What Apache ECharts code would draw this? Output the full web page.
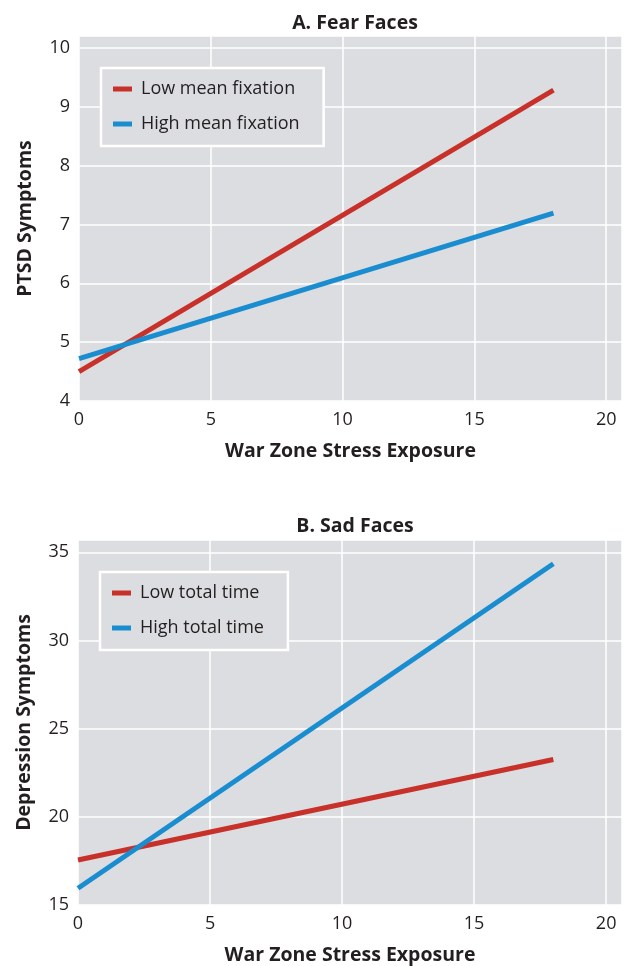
<!DOCTYPE html>
<html>
<head>
<meta charset="utf-8">
<script src="https://cdn.jsdelivr.net/npm/echarts@6/dist/echarts.min.js"></script>
<style>
html,body{margin:0;padding:0;background:#fff;}
#chart{width:627px;height:966px;}
</style>
</head>
<body>
<div id="chart"></div>
<script>
// Panel A: Fear Faces
const panelATitle = 'A. Fear Faces';
const panelAXName = 'War Zone Stress Exposure';
const panelAYName = 'PTSD Symptoms';
const panelANames = ['Low mean fixation', 'High mean fixation'];
const panelAX = [0, 18];
const panelALow = [4.5, 9.28];
const panelAHigh = [4.72, 7.19];
const panelAYTicks = [4, 5, 6, 7, 8, 9, 10];

// Panel B: Sad Faces
const panelBTitle = 'B. Sad Faces';
const panelBXName = 'War Zone Stress Exposure';
const panelBYName = 'Depression Symptoms';
const panelBNames = ['Low total time', 'High total time'];
const panelBX = [0, 18];
const panelBLow = [17.55, 23.25];
const panelBHigh = [15.95, 34.35];
const panelBYTicks = [15, 20, 25, 30, 35];

const xTicks = [0, 5, 10, 15, 20];

const RED = '#c8302a';
const BLUE = '#1a8dd0';
const BG = '#dcdde0';
const FONT = 'Open Sans';
const TXT = '#231f20';
const NAME_SIZE = 19.5;

function pairs(xs, ys){ return xs.map((x,i)=>[x, ys[i]]); }

function xAxis(gi){
  return {
    type:'value', gridIndex:gi, min:0, max:20.6, interval:5,
    name: gi===0?panelAXName:panelBXName, nameLocation:'middle', nameGap:40,
    nameTextStyle:{fontFamily:FONT,fontWeight:'bold',fontSize:NAME_SIZE,color:TXT},
    axisLine:{show:false}, axisTick:{show:false},
    axisLabel:{fontFamily:FONT,fontSize:18,color:TXT,margin:10,showMaxLabel:false,
      formatter:v=> xTicks.includes(v)?String(v):''},
    splitLine:{show:true,lineStyle:{color:'#ffffff',width:1.5}}
  };
}
function yAxis(gi){
  const ticks = gi===0?panelAYTicks:panelBYTicks;
  return {
    type:'value', gridIndex:gi,
    min: ticks[0], max: gi===0?10.2:35.7, interval: ticks[1]-ticks[0],
    name: gi===0?panelAYName:panelBYName, nameLocation:'middle', nameGap:44,
    nameTextStyle:{fontFamily:FONT,fontWeight:'bold',fontSize:NAME_SIZE,color:TXT},
    axisLine:{show:false}, axisTick:{show:false},
    axisLabel:{fontFamily:FONT,fontSize:18,color:TXT,margin:9,showMaxLabel:false,
      formatter:v=> ticks.includes(v)?String(v):''},
    splitLine:{show:true,lineStyle:{color:'#ffffff',width:1.5}}
  };
}
function legend(names, top, left){
  return {
    data:names, orient:'vertical', left:left, top:top,
    backgroundColor:BG, borderColor:'#ffffff', borderWidth:2.5, borderRadius:0,
    padding:[12,24,13,12], itemGap:17, itemWidth:19, itemHeight:5, icon:'rect',
    textStyle:{fontFamily:FONT,fontSize:18,color:TXT,padding:[0,0,0,4]}
  };
}
function line(name, data, color, xi){
  return {
    type:'line', name:name, data:data, xAxisIndex:xi, yAxisIndex:xi,
    showSymbol:false, symbol:'none', silent:true, animation:false,
    lineStyle:{color:color,width:5,cap:'butt'}, itemStyle:{color:color}
  };
}

const chart = echarts.init(document.getElementById('chart'), null, {renderer:'canvas'});
chart.setOption({
  animation:false,
  backgroundColor:'#ffffff',
  title:[
    {text:panelATitle, left:350, top:8, textAlign:'center',
     textStyle:{fontFamily:FONT,fontWeight:'bold',fontSize:NAME_SIZE,color:TXT}},
    {text:panelBTitle, left:350, top:511, textAlign:'center',
     textStyle:{fontFamily:FONT,fontWeight:'bold',fontSize:NAME_SIZE,color:TXT}}
  ],
  grid:[
    {left:79, top:36, width:543, height:365, show:true, backgroundColor:BG, borderWidth:0},
    {left:78, top:540, width:544, height:365, show:true, backgroundColor:BG, borderWidth:0}
  ],
  legend:[ legend(panelANames, 68, 101), legend(panelBNames, 572, 100) ],
  xAxis:[xAxis(0), xAxis(1)],
  yAxis:[yAxis(0), yAxis(1)],
  series:[
    line(panelANames[0], pairs(panelAX, panelALow), RED, 0),
    line(panelANames[1], pairs(panelAX, panelAHigh), BLUE, 0),
    line(panelBNames[0], pairs(panelBX, panelBLow), RED, 1),
    line(panelBNames[1], pairs(panelBX, panelBHigh), BLUE, 1)
  ]
});
</script>
</body>
</html>
